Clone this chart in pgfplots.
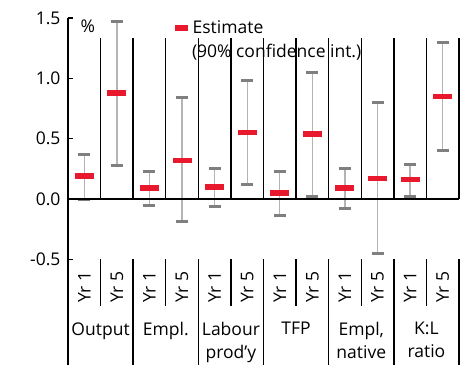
\documentclass[border=0pt]{standalone}
\usepackage{pgfplots}
\pgfplotsset{compat=1.18}
\usepackage{pgfplotstable}
\usepackage{fontspec}
\setmainfont{Open Sans}
\definecolor{estred}{HTML}{E8192C}
\definecolor{capgray}{HTML}{7F7F7F}
\definecolor{whisk}{HTML}{B4B4B4}
\pgfplotstableread{
x y ep em
0.5 0.19 0.18 0.19
1.5 0.88 0.59 0.60
2.5 0.09 0.14 0.145
3.5 0.32 0.52 0.51
4.5 0.10 0.15 0.16
5.5 0.55 0.43 0.43
6.5 0.05 0.18 0.19
7.5 0.54 0.51 0.52
8.5 0.09 0.16 0.165
9.5 0.17 0.63 0.62
10.5 0.16 0.13 0.14
11.5 0.85 0.45 0.45
}\estdata
\newcommand\lf{\fontsize{17.5}{20}\selectfont}
\newcommand\gf{\fontsize{17.5}{23}\selectfont}
\begin{document}
\begin{tikzpicture}
\begin{axis}[
  name=ax,
  scale only axis,
  width=391pt, height=347pt,
  xmin=0, xmax=12, ymin=-1.375, ymax=1.5,
  clip=false,
  axis x line=none,
  axis y line*=left,
  y axis line style={line width=1.4pt, -},
  ytick={-0.5,0,0.5,1,1.5},
  ytick style={line width=1.4pt, black},
  tick align=inside,
  major tick length=5pt,
  yticklabel style={/pgf/number format/fixed, /pgf/number format/fixed zerofill, /pgf/number format/precision=1, /pgf/number format/assume math mode=true, font=\lf, xshift=-4pt},
  legend style={at={(axis cs:3.19,1.416)}, anchor=west, draw=none, fill=none, inner sep=0pt, font=\lf},
  legend image code/.code={\draw[estred, line width=5.5pt] (0pt,0pt) -- (13pt,0pt);},
]
\addplot[only marks, mark=-, mark size=9.5pt, mark options={estred, line width=5.5pt},
  error bars/.cd, y dir=both, y explicit,
  error bar style={whisk, line width=1.3pt},
  error mark=|,
  error mark options={capgray, line width=3pt, mark size=6pt}]
  table[x=x, y=y, y error plus=ep, y error minus=em] {\estdata};
\addlegendentry{Estimate}
% x axis line and ticks
\draw[line width=1.4pt] (axis cs:0,0) -- (axis cs:12,0);
\pgfplotsinvokeforeach{1,...,12}{\draw[line width=1.4pt] (axis cs:#1,0) -- ++(0,-5pt);}
% separators
\pgfplotsinvokeforeach{1,3,5,7,9,11}{\draw[line width=1.4pt] (axis cs:#1,-0.5) -- (axis cs:#1,-0.886);}
\pgfplotsinvokeforeach{2,4,6,8,10,12}{\draw[line width=1.4pt] (axis cs:#1,-0.5) -- (axis cs:#1,-1.375);}
% labels
\pgfplotsinvokeforeach{0.5,2.5,4.5,6.5,8.5,10.5}{\node[rotate=90, font=\lf] at (axis cs:#1,-0.729) {Yr 1};}
\pgfplotsinvokeforeach{1.5,3.5,5.5,7.5,9.5,11.5}{\node[rotate=90, font=\lf] at (axis cs:#1,-0.729) {Yr 5};}
\node[anchor=north, align=center, inner sep=0pt, font=\gf] at (axis cs:1,-1.02) {Output};
\node[anchor=north, align=center, inner sep=0pt, font=\gf] at (axis cs:3,-1.02) {Empl.};
\node[anchor=north, align=center, inner sep=0pt, font=\gf] at (axis cs:5,-1.02) {Labour\\prod'y};
\node[anchor=north, align=center, inner sep=0pt, font=\gf] at (axis cs:7,-1.02) {TFP};
\node[anchor=north, align=center, inner sep=0pt, font=\gf] at (axis cs:9,-1.02) {Empl,\\native};
\node[anchor=north, align=center, inner sep=0pt, font=\gf] at (axis cs:11,-1.02) {K:L\\ratio};
\node[font=\lf] at (axis cs:0.61,1.433) {\%};
\node[anchor=west, inner sep=0pt, font=\lf] at (axis cs:3.8,1.217) {(90\% confidence int.)};
\end{axis}
\pgfresetboundingbox
\path ([xshift=-68pt]ax.south west) rectangle ([xshift=7pt, yshift=18pt]ax.north east);
\end{tikzpicture}
\end{document}
